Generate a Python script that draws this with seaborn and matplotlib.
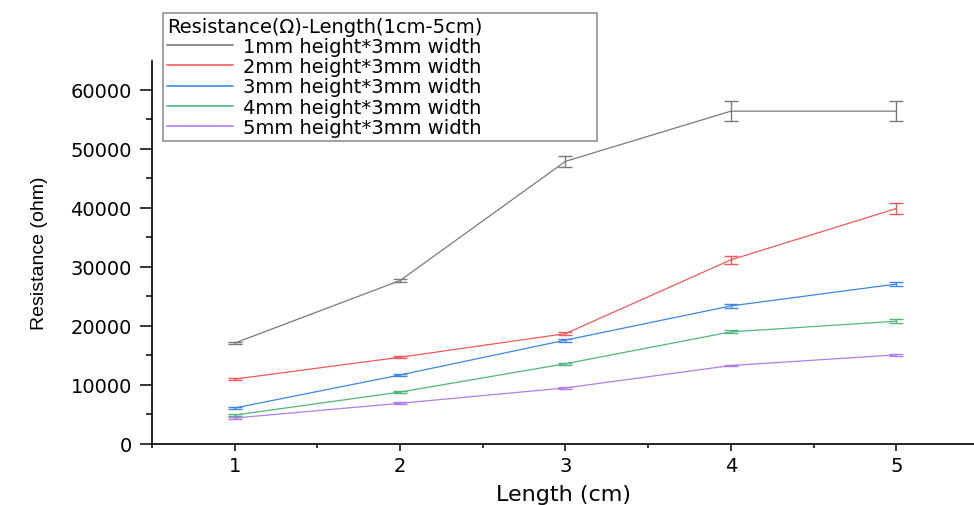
import numpy as np
import pandas as pd
import matplotlib
matplotlib.use("Agg")
import matplotlib.pyplot as plt
from matplotlib.ticker import MultipleLocator
import seaborn as sns

lengths = [1, 2, 3, 4, 5]
series_names = ["1mm height*3mm width", "2mm height*3mm width", "3mm height*3mm width",
                "4mm height*3mm width", "5mm height*3mm width"]
r_1mm = [17100, 27700, 47900, 56400, 56400]
r_2mm = [11000, 14700, 18700, 31200, 39900]
r_3mm = [6100, 11700, 17600, 23400, 27100]
r_4mm = [4900, 8800, 13600, 19000, 20800]
r_5mm = [4400, 6900, 9500, 13300, 15100]
e_1mm = [150, 300, 950, 1700, 1700]
e_2mm = [150, 150, 250, 700, 900]
e_3mm = [150, 200, 250, 300, 350]
e_4mm = [150, 200, 200, 250, 300]
e_5mm = [100, 150, 150, 150, 200]
legend_title = "Resistance(Ω)-Length(1cm-5cm)"
x_label = "Length (cm)"
y_label = "Resistance (ohm)"

values = [r_1mm, r_2mm, r_3mm, r_4mm, r_5mm]
errors = [e_1mm, e_2mm, e_3mm, e_4mm, e_5mm]
colors = ["#7a7a7a", "#f05a5a", "#3d85e6", "#52b57c", "#b07ee6"]

rows = []
for name, vals, errs in zip(series_names, values, errors):
    for x, v, e in zip(lengths, vals, errs):
        rows.append({"Length": x, "Resistance": v, "err": e, "series": name})
df = pd.DataFrame(rows)

sns.set_style("ticks")
plt.rcParams["font.family"] = ["DejaVu Sans"]
plt.rcParams["text.color"] = "black"
plt.rcParams["axes.labelcolor"] = "black"
plt.rcParams["xtick.color"] = "black"
plt.rcParams["ytick.color"] = "black"

fig = plt.figure(figsize=(9.74, 5.06), dpi=100)
ax = fig.add_axes([152 / 974, 61 / 506, 1 - 152 / 974, (445 - 62) / 506])

sns.lineplot(data=df, x="Length", y="Resistance", hue="series", hue_order=series_names,
             palette=colors, estimator=None, linewidth=0.9, ax=ax, legend=True)

for name, col in zip(series_names, colors):
    sub = df[df["series"] == name]
    ax.errorbar(sub["Length"], sub["Resistance"], yerr=sub["err"], fmt="none",
                ecolor=col, elinewidth=1.0, capsize=5, capthick=1.0)

ax.set_xlim(0.5, 5.47)
ax.set_ylim(0, 64900)
ax.xaxis.set_major_locator(MultipleLocator(1))
ax.xaxis.set_minor_locator(MultipleLocator(0.5))
ax.yaxis.set_major_locator(MultipleLocator(10000))
ax.yaxis.set_minor_locator(MultipleLocator(5000))

for s in ["top", "right"]:
    ax.spines[s].set_visible(False)
for s in ["left", "bottom"]:
    ax.spines[s].set_linewidth(1.2)
    ax.spines[s].set_color("black")

ax.tick_params(axis="y", which="major", direction="out", length=8.5, width=1.1,
               labelsize=14, pad=6)
ax.tick_params(axis="y", which="minor", direction="out", length=4, width=1.1)
ax.tick_params(axis="x", which="major", direction="out", length=5, width=1.1,
               labelsize=14, pad=4)
ax.tick_params(axis="x", which="minor", direction="out", length=3, width=1.1)

ax.set_xlabel(x_label, fontsize=16, labelpad=6)
ax.set_ylabel(y_label, fontsize=14, family="Liberation Sans", labelpad=16)

handles, labels = ax.get_legend_handles_labels()
leg = ax.legend(handles, labels, title=legend_title, loc="upper left",
                bbox_to_anchor=(163 / 974, 1 - 140 / 506, 434 / 974, 126 / 506),
                bbox_transform=fig.transFigure, mode="expand",
                fontsize=14, title_fontsize=14, frameon=True, fancybox=False,
                framealpha=1, edgecolor="#9a9a9a", handlelength=3.4, handletextpad=0.5,
                labelspacing=0.06, borderpad=0.2, borderaxespad=0)
leg._legend_box.align = "left"
leg.get_frame().set_linewidth(1.3)
for h in leg.get_lines():
    h.set_linewidth(1.2)

fig.savefig("out.png", dpi=100)
